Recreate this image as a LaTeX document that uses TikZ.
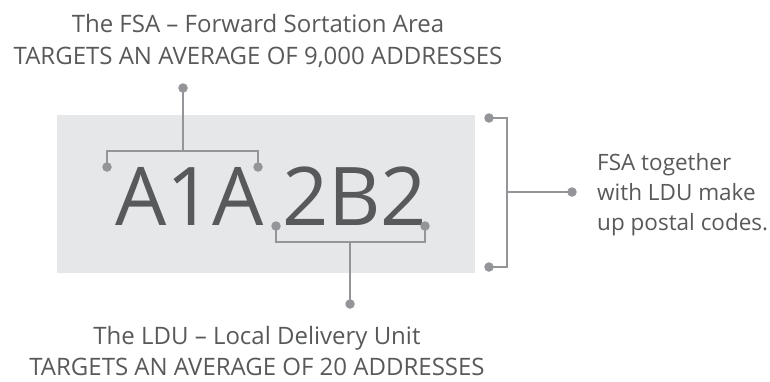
\documentclass[tikz,border=0pt]{standalone}
\usepackage{fontspec}
\setmainfont{Open Sans}
\definecolor{txt}{HTML}{58595B}
\definecolor{conn}{HTML}{939598}
\definecolor{boxbg}{HTML}{E6E7E8}
\begin{document}
\begin{tikzpicture}[x=1pt,y=-1pt,
  conn/.style={draw=conn,line width=2pt},
  dot/.style={circle,fill=conn,inner sep=0pt,minimum size=9.5pt},
  label/.style={text=txt,inner sep=0pt,align=center},
  side/.style={text=txt,inner sep=0pt,align=left}]
\useasboundingbox (0,0) rectangle (770,381);
\fill[boxbg] (57,115) rectangle (475,273);
% big code
\node[text=txt,inner sep=0pt,anchor=base west,font=\fontsize{81}{81}\selectfont] (code) at (115,225) {A1A\hspace{18pt}2B2};
% top text
\node[label,anchor=base,font=\fontsize{24}{32}\selectfont] (fsa) at (258,64) {The FSA – Forward Sortation Area\\TARGETS AN AVERAGE OF 9,000 ADDRESSES};
% bottom text
\node[label,anchor=base,font=\fontsize{24}{31}\selectfont] (ldu) at (257,375) {The LDU – Local Delivery Unit\\TARGETS AN AVERAGE OF 20 ADDRESSES};
% side text
\node[side,anchor=base west,font=\fontsize{22.5}{30}\selectfont] (side) at (597,230) {FSA together\\with LDU make\\up postal codes.};
% FSA bracket
\node[dot] (ft) at (183,88) {};
\node[dot] (fl) at (107,167) {};
\node[dot] (fr) at (258,167) {};
\coordinate (fm) at (183,151);
\draw[conn] (ft.center) -- (fm);
\draw[conn] (fl.center) |- (fm) -| (fr.center);
% LDU bracket
\node[dot] (ll) at (276,226) {};
\node[dot] (lr) at (425,226) {};
\node[dot] (lb) at (350,304) {};
\coordinate (lm) at (350,242);
\draw[conn] (lb.center) -- (lm);
\draw[conn] (ll.center) |- (lm) -| (lr.center);
% right bracket
\node[dot] (rt) at (489,118) {};
\node[dot] (rb) at (489,267) {};
\node[dot] (rm) at (572,192) {};
\coordinate (rv) at (507,192);
\draw[conn] (rt.center) -| (rv) |- (rb.center);
\draw[conn] (rv) -- (rm.center);
\end{tikzpicture}
\end{document}
